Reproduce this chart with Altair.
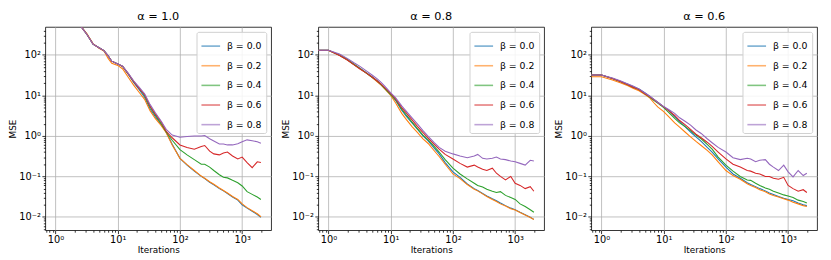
import altair as alt
import pandas as pd

# ---------------- data ----------------
# iteration index (0.5 stands in for iteration 0, which the log axis pushes off the left edge)
ITERATIONS = [0.5, 1, 1.5, 2, 2.6, 3.2, 4, 5, 6, 7, 8, 10, 12, 15, 18, 22, 27, 33, 40, 50,
              60, 75, 100, 130, 170, 220, 250, 300, 350, 430, 500, 580, 700, 850, 1000,
              1200, 1450, 1750, 2000]

ALPHAS = ["1.0", "0.8", "0.6"]
BETAS = ["0.0", "0.2", "0.4", "0.6", "0.8"]
COLORS = ["#1f77b4", "#ff7f0e", "#2ca02c", "#d62728", "#9467bd"]

# alpha = 1.0
mse_a10_b00 = [4000, 4000, 1800, 950, 490, 320, 185, 150, 128, 95, 70, 60, 52, 32, 21, 14, 9, 4.6, 3.0, 1.9,
               1.25, 0.62, 0.28, 0.19, 0.135, 0.1, 0.088, 0.072, 0.062, 0.05, 0.044, 0.038, 0.031, 0.026, 0.02,
               0.0165, 0.0138, 0.0115, 0.0098]
mse_a10_b02 = [4000, 4000, 1800, 950, 490, 330, 190, 145, 125, 82, 62, 55, 45, 27, 18, 12, 8, 4.2, 2.7, 1.8,
               1.2, 0.6, 0.28, 0.195, 0.14, 0.102, 0.09, 0.074, 0.064, 0.052, 0.045, 0.039, 0.032, 0.027, 0.021,
               0.017, 0.0142, 0.012, 0.0101]
mse_a10_b04 = [4000, 4000, 1800, 950, 490, 320, 185, 150, 128, 95, 70, 60, 52, 33, 22, 15, 10, 5.2, 3.3, 2.0,
               1.25, 0.78, 0.46, 0.34, 0.26, 0.2, 0.2, 0.17, 0.14, 0.11, 0.095, 0.092, 0.08, 0.07, 0.058,
               0.042, 0.036, 0.031, 0.027]
mse_a10_b06 = [4000, 4000, 1800, 950, 490, 320, 185, 150, 128, 95, 70, 60, 52, 33, 22, 15, 10.5, 5.5, 3.5, 2.2,
               1.3, 0.9, 0.6, 0.52, 0.47, 0.55, 0.58, 0.42, 0.36, 0.34, 0.38, 0.4, 0.32, 0.27, 0.3,
               0.22, 0.165, 0.23, 0.22]
mse_a10_b08 = [4000, 4000, 1800, 950, 490, 320, 185, 150, 128, 95, 70, 60, 53, 34, 23, 16, 11, 6, 3.8, 2.3,
               1.45, 1.05, 0.93, 0.97, 1.0, 1.0, 1.02, 0.85, 0.75, 0.63, 0.63, 0.6, 0.6, 0.64, 0.72,
               0.8, 0.76, 0.72, 0.66]

# alpha = 0.8
mse_a08_b00 = [130, 130, 100, 78, 58, 47, 37, 29, 23, 18.5, 15, 10.5, 7.5, 4.3, 3.0, 2.1, 1.45, 1.0, 0.75, 0.5,
               0.36, 0.22, 0.13, 0.095, 0.065, 0.05, 0.045, 0.038, 0.033, 0.028, 0.025, 0.022, 0.019, 0.0165, 0.015,
               0.013, 0.0113, 0.0098, 0.0087]
mse_a08_b02 = [128, 128, 98, 76, 57, 46, 36, 28, 22, 18, 14.5, 10, 6.5, 3.6, 2.5, 1.7, 1.2, 0.85, 0.65, 0.43,
               0.31, 0.2, 0.115, 0.088, 0.063, 0.048, 0.044, 0.037, 0.032, 0.027, 0.024, 0.021, 0.0185, 0.016, 0.0148,
               0.0128, 0.0112, 0.0097, 0.0086]
mse_a08_b04 = [130, 130, 98, 76, 57, 46, 36, 28, 23, 18.5, 15, 10.5, 7.8, 4.6, 3.2, 2.2, 1.5, 1.05, 0.8, 0.55,
               0.4, 0.26, 0.16, 0.115, 0.087, 0.068, 0.06, 0.055, 0.048, 0.043, 0.04, 0.042, 0.034, 0.03, 0.027,
               0.021, 0.018, 0.015, 0.013]
mse_a08_b06 = [130, 130, 97, 75, 56, 45, 36, 28.5, 23, 19, 15.5, 11, 8.2, 5.0, 3.6, 2.5, 1.7, 1.2, 0.88, 0.62,
               0.47, 0.35, 0.27, 0.21, 0.17, 0.19, 0.17, 0.15, 0.14, 0.16, 0.12, 0.1, 0.082, 0.1, 0.068,
               0.06, 0.05, 0.056, 0.043]
mse_a08_b08 = [130, 130, 105, 82, 63, 52, 41, 32, 26, 21, 17, 11.5, 8.7, 5.5, 4.0, 2.8, 1.95, 1.35, 0.97, 0.68,
               0.52, 0.42, 0.36, 0.32, 0.29, 0.32, 0.35, 0.28, 0.27, 0.28, 0.3, 0.27, 0.26, 0.24, 0.23,
               0.21, 0.19, 0.25, 0.24]

# alpha = 0.6
mse_a06_b00 = [32, 32, 26, 22.5, 19, 16.5, 14.5, 11.5, 9.5, 7.8, 6.8, 5.2, 4.3, 3.0, 2.3, 1.7, 1.25, 0.95, 0.73, 0.52,
               0.4, 0.27, 0.17, 0.115, 0.09, 0.07, 0.063, 0.056, 0.05, 0.044, 0.039, 0.036, 0.032, 0.029, 0.027,
               0.025, 0.022, 0.02, 0.019]
mse_a06_b02 = [29, 29, 24, 20.5, 17.5, 15, 13, 10.5, 8.6, 6.5, 5.2, 4.0, 3.0, 2.1, 1.65, 1.25, 0.95, 0.73, 0.58, 0.44,
               0.34, 0.23, 0.14, 0.105, 0.085, 0.066, 0.06, 0.053, 0.047, 0.042, 0.037, 0.034, 0.031, 0.028, 0.026,
               0.023, 0.021, 0.019, 0.018]
mse_a06_b04 = [32, 32, 26, 22, 18.5, 16, 14, 11, 9, 7.5, 6.5, 5.0, 3.8, 2.7, 2.1, 1.7, 1.35, 1.05, 0.85, 0.62,
               0.47, 0.3, 0.19, 0.135, 0.1, 0.082, 0.08, 0.068, 0.06, 0.052, 0.048, 0.043, 0.039, 0.035, 0.033,
               0.03, 0.026, 0.024, 0.022]
mse_a06_b06 = [32, 32, 26, 22, 18.5, 16, 14, 11, 9.2, 7.8, 6.7, 5.2, 4.2, 3.2, 2.4, 1.9, 1.45, 1.1, 0.9, 0.7,
               0.55, 0.4, 0.27, 0.2, 0.17, 0.14, 0.135, 0.12, 0.115, 0.1, 0.1, 0.09, 0.085, 0.095, 0.06,
               0.05, 0.043, 0.047, 0.04]
mse_a06_b08 = [32, 32, 27, 23, 19.5, 17, 14.5, 11.5, 9.5, 8, 6.8, 5.3, 4.5, 3.6, 2.8, 2.3, 1.85, 1.4, 1.15, 0.85,
               0.68, 0.52, 0.4, 0.29, 0.26, 0.28, 0.27, 0.23, 0.25, 0.26, 0.2, 0.17, 0.14, 0.19, 0.13,
               0.097, 0.14, 0.105, 0.12]

SERIES = {
    "1.0": [mse_a10_b00, mse_a10_b02, mse_a10_b04, mse_a10_b06, mse_a10_b08],
    "0.8": [mse_a08_b00, mse_a08_b02, mse_a08_b04, mse_a08_b06, mse_a08_b08],
    "0.6": [mse_a06_b00, mse_a06_b02, mse_a06_b04, mse_a06_b06, mse_a06_b08],
}

# axis ticks (major = powers of ten, the rest minor)
X_TICKS = [0.7, 0.8, 0.9] + [m * 10 ** e for e in range(0, 3) for m in range(1, 10)] + [1000, 2000]
Y_TICKS = [m * 10.0 ** e for e in range(-3, 3) for m in range(1, 10)]
Y_TICKS = [round(v, 6) for v in Y_TICKS if 0.0047 <= v <= 490]
MAJOR_LABELS = {0.01: "10⁻²", 0.1: "10⁻¹", 1: "10⁰", 10: "10¹", 100: "10²", 1000: "10³"}

X_DOMAIN = [0.684, 2924]
Y_DOMAIN = [0.0047, 490]

FONT = "DejaVu Sans"

# ---------------- chart ----------------
MAJOR_TEST = "abs(log(datum.value)/LN10 - round(log(datum.value)/LN10)) < 0.001"
LABEL_EXPR = " : ".join(
    f"abs(datum.value - {v}) < {v * 1e-6} ? '{lab}'" for v, lab in MAJOR_LABELS.items()
) + " : ''"


def make_axis(values, title):
    return alt.Axis(
        values=values,
        labelExpr=LABEL_EXPR,
        labelOverlap=False,
        labelFont=FONT,
        labelFontSize=10,
        labelColor="black",
        labelPadding=1.5,
        tickColor="black",
        tickWidth=0.8,
        tickSize={"condition": {"test": MAJOR_TEST, "value": 3.5}, "value": 2},
        grid=True,
        gridColor="#b0b0b0",
        gridWidth=0.8,
        gridOpacity={"condition": {"test": MAJOR_TEST, "value": 1}, "value": 0},
        domain=False,
        title=title,
        titleFont=FONT,
        titleFontSize=9,
        titleFontWeight="normal",
        titleColor="black",
        titlePadding=1,
    )


def panel(alpha):
    rows = []
    for beta, ys in zip(BETAS, SERIES[alpha]):
        for it, mse in zip(ITERATIONS, ys):
            rows.append({"it": it, "mse": mse, "beta": f"β = {beta}"})
    df = pd.DataFrame(rows)
    labels = [f"β = {b}" for b in BETAS]
    return (
        alt.Chart(df, title=alt.Title(f"α = {alpha}", font=FONT, fontSize=11.5,
                                      fontWeight="normal", color="black", offset=3))
        .mark_line(clip=True, strokeWidth=1.1, opacity=1)
        .encode(
            x=alt.X("it:Q", scale=alt.Scale(type="log", domain=X_DOMAIN, nice=False),
                    axis=make_axis(X_TICKS, "Iterations")),
            y=alt.Y("mse:Q", scale=alt.Scale(type="log", domain=Y_DOMAIN, nice=False),
                    axis=make_axis(Y_TICKS, "MSE")),
            color=alt.Color(
                "beta:N",
                scale=alt.Scale(domain=labels, range=COLORS),
                legend=alt.Legend(
                    title=None,
                    orient="top-right",
                    offset=5,
                    padding=4,
                    strokeColor="#d0d0d0",
                    fillColor="rgba(255,255,255,0.85)",
                    cornerRadius=2,
                    symbolType="stroke",
                    symbolSize=361,
                    symbolStrokeWidth=1.6,
                    symbolOpacity=0.6,
                    labelFont=FONT,
                    labelFontSize=9.5,
                    labelColor="black",
                    labelOffset=6,
                    rowPadding=5,
                ),
            ),
        )
        .properties(width=230, height=207)
    )


chart = (
    alt.hconcat(*[panel(a) for a in ALPHAS], spacing=9)
    .resolve_legend(color="independent")
    .properties(padding={"left": 0, "top": 0, "right": 5, "bottom": 0})
    .configure_view(stroke="black", strokeWidth=0.8)
)

chart.save("out.html", embed_options={"renderer": "svg", "actions": False})
